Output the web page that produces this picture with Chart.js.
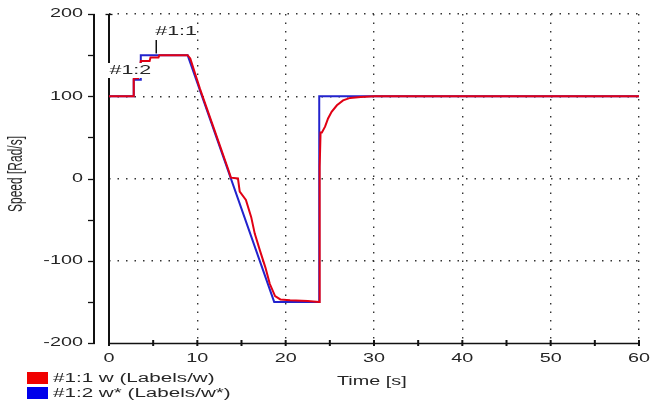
<!DOCTYPE html>
<html><head><meta charset="utf-8">
<script src="https://cdn.jsdelivr.net/npm/chart.js@4/dist/chart.umd.min.js"></script>
<style>html,body{margin:0;padding:0;background:#fff;overflow:hidden}#wrap{width:651px;height:405px;position:relative}canvas{display:block}</style>
</head><body><div id="wrap"><canvas id="c" width="651" height="405"></canvas></div>
<script>
// ---- data ----
const seriesNames = ['#1:1 w (Labels/w)', '#1:2 w* (Labels/w*)'];
// w* (reference speed, blue)
const timeRef  = [0, 2.8, 2.8, 3.6, 3.6, 8.9, 18.7, 23.8, 23.8, 60];
const speedRef = [100, 100, 120, 120, 150, 150, -150, -150, 100, 100];
// w (measured speed, red)
const timeW  = [0, 2.75, 2.8, 3.3, 3.6, 4.6, 4.7, 5.6, 5.7, 8.9, 9.2, 10.3, 12.0, 13.5, 13.8, 14.6, 14.8, 15.5, 16.1, 16.5, 17.1, 17.7, 18.2, 18.8, 19.4, 20.5, 22.5, 23.8, 23.85, 23.95, 24.1, 24.46, 24.8, 25.2, 25.8, 26.5, 27.3, 28.5, 30, 60];
const speedW = [100, 100, 122, 122, 143, 143, 147, 147, 150, 150, 146, 109, 57, 11, 1, 0, -16, -26, -47, -67, -88, -108, -128, -143, -147, -148, -149, -150, 14, 56, 56, 63, 73, 81, 89, 95, 98, 99, 100, 100];
const xTicks = [0, 10, 20, 30, 40, 50, 60];
const yTicks = [-200, -100, 0, 100, 200];
const xTitle = 'Time [s]';
const yTitle = 'Speed [Rad/s]';
const markers = [{label: '#1:1', t: 5.35}, {label: '#1:2', t: 0}];

const toPts = (xs, ys) => xs.map((x, i) => ({x, y: ys[i]}));
const FONT = "'Liberation Sans', Arial, sans-serif";
const TXT = '#262626';
const SX = 1.65;

function sText(ctx, text, x, y, align, size, sx) {
  ctx.save();
  ctx.font = size + 'px ' + FONT;
  ctx.fillStyle = TXT;
  ctx.textBaseline = 'middle';
  ctx.textAlign = align;
  ctx.translate(x, y);
  ctx.scale(sx, 1);
  ctx.fillText(text, 0, 0);
  ctx.restore();
}

const decor = {
  id: 'decor',
  beforeDatasetsDraw(chart) {
    const {ctx, chartArea: a, scales: {x, y}} = chart;
    ctx.save();
    ctx.strokeStyle = '#111';
    ctx.lineWidth = 2;
    ctx.beginPath(); ctx.moveTo(94, a.top); ctx.lineTo(94, a.bottom); ctx.stroke();
    ctx.lineWidth = 1.3;
    for (let v = -200; v <= 200; v += 50) {
      const py = Math.round(y.getPixelForValue(v)) + 0.5;
      ctx.beginPath(); ctx.moveTo(88, py); ctx.lineTo(95, py); ctx.stroke();
    }
    const x0 = x.getPixelForValue(0);
    ctx.lineWidth = 2;
    ctx.beginPath(); ctx.moveTo(x0, a.top); ctx.lineTo(x0, a.bottom); ctx.stroke();
    ctx.lineWidth = 1.3;
    ctx.beginPath(); ctx.moveTo(x0 - 3.5, a.top + 0.5); ctx.lineTo(x0 + 3.5, a.top + 0.5); ctx.stroke();
    ctx.beginPath(); ctx.moveTo(x0, a.bottom + 0.5); ctx.lineTo(a.right, a.bottom + 0.5); ctx.stroke();
    ctx.lineWidth = 2;
    for (let t = 0; t <= 60; t += 5) {
      const px = x.getPixelForValue(t);
      ctx.beginPath(); ctx.moveTo(px, a.bottom - 3); ctx.lineTo(px, a.bottom + 3); ctx.stroke();
    }
    ctx.restore();
    y.ticks.forEach(tk => {
      if (yTicks.includes(tk.value)) sText(ctx, String(tk.value), 83, y.getPixelForValue(tk.value), 'right', 12, SX);
    });
    x.ticks.forEach(tk => {
      if (xTicks.includes(tk.value)) sText(ctx, String(tk.value), x.getPixelForValue(tk.value), 359, 'center', 12, SX);
    });
    sText(ctx, xTitle, 337, 382, 'left', 12, SX);
    ctx.save();
    ctx.font = '12px ' + FONT; ctx.fillStyle = TXT;
    ctx.textAlign = 'center'; ctx.textBaseline = 'middle';
    ctx.translate(17, 174); ctx.scale(SX, 1); ctx.rotate(-Math.PI / 2);
    ctx.fillText(yTitle, 0, 0);
    ctx.restore();
  },
  afterDatasetsDraw(chart) {
    const {ctx, scales: {x, y}} = chart;
    const m1 = x.getPixelForValue(markers[0].t);
    ctx.save();
    ctx.strokeStyle = '#111'; ctx.lineWidth = 1.5;
    ctx.beginPath(); ctx.moveTo(m1, 40); ctx.lineTo(m1, y.getPixelForValue(152)); ctx.stroke();
    ctx.restore();
    sText(ctx, markers[0].label, m1 - 1, 31, 'left', 13, SX);
    const m2 = x.getPixelForValue(markers[1].t);
    ctx.save(); ctx.fillStyle = '#fff'; ctx.fillRect(m2 - 1.5, 63, 46, 15); ctx.restore();
    sText(ctx, markers[1].label, m2 + 0.5, 70.5, 'left', 13, SX);
    const cols = ['rgb(240,0,0)', 'rgb(0,0,235)'];
    chart.data.datasets.forEach((ds, i) => {
      const by = 372 + i * 15;
      ctx.save(); ctx.fillStyle = cols[i]; ctx.fillRect(27, by, 21, 12); ctx.restore();
      sText(ctx, ds.label, 53, by + 6.5, 'left', 12.5, SX);
    });
  }
};

new Chart(document.getElementById('c'), {
  type: 'line',
  data: {
    datasets: [
      {label: seriesNames[0], data: toPts(timeW, speedW), borderColor: 'rgb(225,0,20)', borderWidth: 2, pointRadius: 0, tension: 0, order: 0},
      {label: seriesNames[1], data: toPts(timeRef, speedRef), borderColor: 'rgb(35,35,205)', borderWidth: 2, pointRadius: 0, tension: 0, order: 1}
    ]
  },
  options: {
    responsive: false,
    animation: false,
    events: [],
    layout: {padding: {top: 14, right: 12, bottom: 0, left: 0}},
    plugins: {legend: {display: false}, tooltip: {enabled: false}, title: {display: false}},
    scales: {
      x: {
        type: 'linear', min: 0, max: 60,
        ticks: {stepSize: 10, display: false},
        grid: {drawTicks: false, lineWidth: 1.4, color: c => (c.tick && c.tick.value === 0) ? 'rgba(0,0,0,0)' : '#333'},
        border: {display: false, dash: [1.5, 7]},
        afterFit: s => { s.height = 62; }
      },
      y: {
        type: 'linear', min: -200, max: 200,
        ticks: {stepSize: 100, display: false},
        grid: {drawTicks: false, lineWidth: 1.4, color: c => (c.tick && c.tick.value === -200) ? 'rgba(0,0,0,0)' : '#333'},
        border: {display: false, dash: [1.5, 7]},
        afterFit: s => { s.width = 109; }
      }
    }
  },
  plugins: [decor]
});
</script>
</body></html>
